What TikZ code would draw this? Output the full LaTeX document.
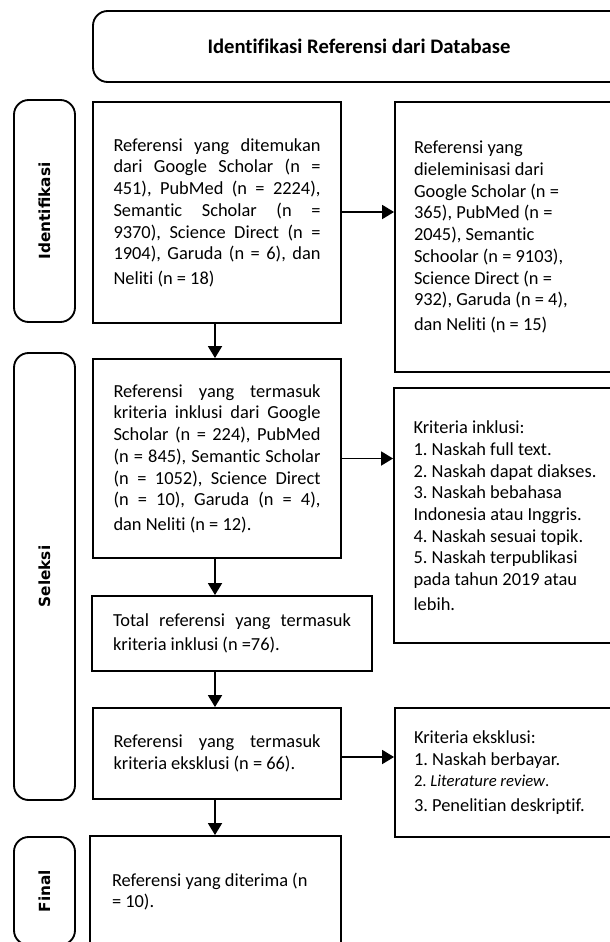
\documentclass[tikz,border=0pt]{standalone}
\usepackage{fontspec}
\setmainfont{Carlito}[Ligatures=NoCommon]
\newfontfamily\labelfont{DejaVu Sans}
\usetikzlibrary{arrows.meta}
\frenchspacing
\newcommand\jl[1]{\makebox[\hsize][s]{\spaceskip=0pt\xspaceskip=0pt\relax #1}}
\tikzset{
  box/.style={draw, line width=1.4pt, inner sep=0pt},
  txt/.style={font=\frenchspacing\fontsize{13.8pt}{16.3pt}\selectfont, align=left, text width=155.25pt, inner sep=0pt,
    execute at begin node={\spaceskip=0pt\xspaceskip=0pt\relax}},
  sidebox/.style={draw, line width=1.4pt, rounded corners=11pt, minimum width=45.75pt, inner sep=0pt},
  sidelabel/.style={font=\labelfont\bfseries\fontsize{11.5pt}{13pt}\selectfont, rotate=90},
  arr/.style={line width=1.4pt, -{Triangle[width=10.5pt,length=9pt]}}
}
\begin{document}
\begin{tikzpicture}[x=0.75pt,y=-0.75pt]
\useasboundingbox (0,0) rectangle (610,942);
\clip (0,0) rectangle (610,942);
% title
\node[box, rounded corners=11pt, minimum width=399pt, minimum height=53.25pt,
  font=\bfseries\fontsize{15.5pt}{18pt}\selectfont] (title) at (359,46.5) {Identifikasi Referensi dari Database};
% side labels
\node[sidebox, minimum height=166.5pt] (sid) at (44.5,211) {};
\node[sidelabel] (lid) at (sid.center) {Identifikasi};
\node[sidebox, minimum height=335.25pt] (ssel) at (44.5,576.5) {};
\node[sidelabel] (lsel) at (ssel.center) {Seleksi};
\node[sidebox, minimum height=81pt] (sfin) at (44.5,891) {};
\node[sidelabel] (lfin) at (sfin.center) {Final};
% boxes
\node[box, minimum width=186pt, minimum height=165.75pt] (b1) at (217,212.5) {};
\node[txt] (t1) at (b1.center) {\jl{Referensi yang ditemukan}\\
\jl{dari Google Scholar (n =}\\
\jl{451), PubMed (n = 2224),}\\
\jl{Semantic Scholar (n =}\\
\jl{9370), Science Direct (n =}\\
\jl{1904), Garuda (n = 6), dan}\\[2pt]
Neliti (n = 18)};
\node[box, minimum width=183.75pt, minimum height=202.5pt] (r1) at (517.5,237) {};
\node[txt] (tr1) at (r1.center) {Referensi yang\\
dieleminisasi dari\\
Google Scholar (n =\\
365), PubMed (n =\\
2045), Semantic\\
Schoolar (n = 9103),\\
Science Direct (n =\\
932), Garuda (n = 4),\\[2pt]
dan Neliti (n = 15)};
\node[box, minimum width=186pt, minimum height=149.25pt] (b2) at (217,458.5) {};
\node[txt] (t2) at (b2.center) {\jl{Referensi yang termasuk}\\
\jl{kriteria inklusi dari Google}\\
\jl{Scholar (n = 224), PubMed}\\
\jl{(n = 845), Semantic Scholar}\\
\jl{(n = 1052), Science Direct}\\
\jl{(n = 10), Garuda (n = 4),}\\[2pt]
dan Neliti (n = 12).};
\node[box, minimum width=184.5pt, minimum height=191.25pt] (r2) at (517,515.5) {};
\node[txt] (tr2) at (r2.center) {Kriteria inklusi:\\
1. Naskah full text.\\
2. Naskah dapat diakses.\\
3. Naskah bebahasa\\
Indonesia atau Inggris.\\
4. Naskah sesuai topik.\\
5. Naskah terpublikasi\\
pada tahun 2019 atau\\[2pt]
lebih.};
\node[box, minimum width=210pt, minimum height=56.25pt] (b3) at (232,633.5) {};
\node[txt, text width=178.5pt] (t3) at (b3.center) {\jl{Total referensi yang termasuk}\\[2pt]
kriteria inklusi (n =76).};
\node[box, minimum width=186pt, minimum height=68.25pt] (b4) at (217,753.5) {};
\node[txt] (t4) at (b4.center) {\jl{Referensi yang termasuk}\\
kriteria eksklusi (n = 66).};
\node[box, minimum width=183.75pt, minimum height=96.75pt] (r3) at (517.5,772.5) {};
\node[txt] (tr3) at (r3.center) {Kriteria eksklusi:\\
1. Naskah berbayar.\\
{\fontsize{12.5pt}{13pt}\selectfont 2. \textit{Literature review}.}\\[2pt]
3. Penelitian deskriptif.};
\node[box, minimum width=188.25pt, minimum height=83.25pt] (b5) at (215.5,891.5) {};
\node[txt] (t5) at (b5.center) {Referensi yang diterima (n\\
= 10).};
% arrows
\draw[arr] (b1.east |- 0,212) coordinate (a1s) -- (r1.west |- a1s);
\draw[arr] (b2.east) -- (r2.west |- b2.east);
\draw[arr] (b4.east |- 0,757) coordinate (a3s) -- (r3.west |- a3s);
\draw[arr] (b1.south -| 215,0) coordinate (d1) -- (b2.north -| d1);
\draw[arr] (b2.south -| 215,0) coordinate (d2) -- (b3.north -| d2);
\draw[arr] (b3.south -| 215,0) coordinate (d3) -- (b4.north -| d3);
\draw[arr] (b4.south -| 215,0) coordinate (d4) -- (b5.north -| d4);
\end{tikzpicture}
\end{document}
